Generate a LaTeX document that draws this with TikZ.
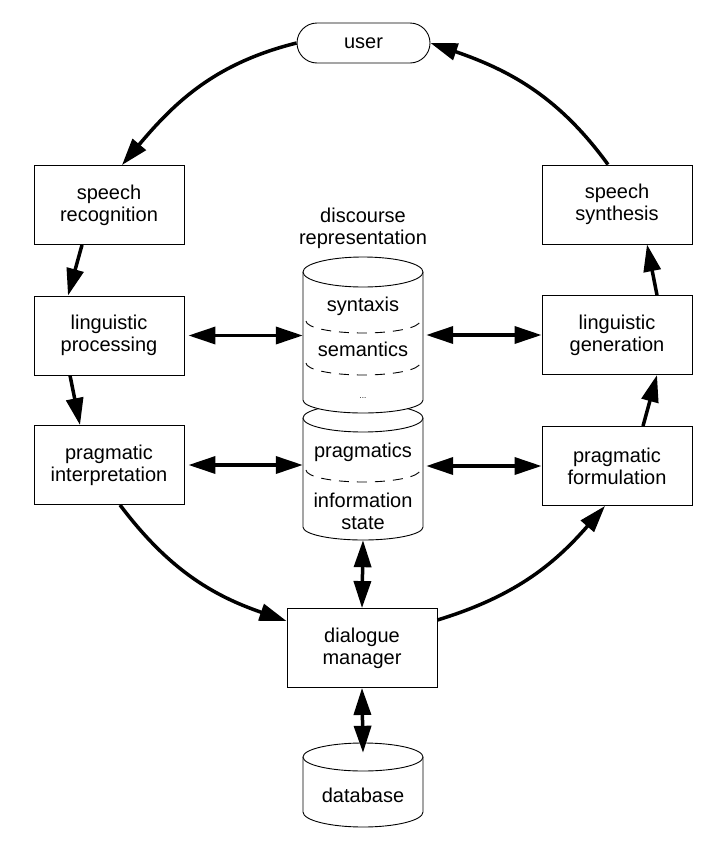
\documentclass[tikz,border=0pt]{standalone}
\usepackage{fontspec}
\setmainfont{Liberation Sans}
\usetikzlibrary{positioning}
\usetikzlibrary{arrows.meta}
\tikzset{x=1pt, y=1pt,
every node/.style={font=\fontsize{20}{22}\selectfont, align=center},
module/.style={ % Sets the properties for each processing box
draw,
line width=0.9pt,
minimum width=150pt,
minimum height=79pt},
pill/.style={draw, line width=0.9pt, rounded corners=20pt,
minimum width=133pt, minimum height=40pt},
store/.style={inner sep=0pt, minimum width=120pt}, % Invisible frame round a cylinder
drum/.style={draw, line width=0.9pt, fill=white},
divider/.style={line width=0.9pt, dash pattern=on 10pt off 8pt},
>={Triangle[length=27pt,width=17pt]}, % Big filled heads
every edge/.style={ % Sets the properties for each flow
draw,
->,
line width=3.5pt},
both/.style={<->}}

\begin{document}
\begin{tikzpicture}
\useasboundingbox (0,0) rectangle (718,-841);
\node[pill] (user) at (363.5,-43) {user};
\node[module] (recog) at (109,-205) {speech\\recognition};
\node[module] (lproc) at (109,-335.5) {linguistic\\processing};
\node[module] (pint) at (109,-465) {pragmatic\\interpretation};
\node[module] (synth) at (617,-204.5) {speech\\synthesis};
\node[module] (lgen) at (617,-335) {linguistic\\generation};
\node[module] (pform) at (617,-466) {pragmatic\\formulation};
\node[module] (dman) at (362,-648) {dialogue\\manager};
\node[store, minimum height=156pt] (discup) at (363,-335) {};
\node[store, minimum height=136pt] (disclow) at (363,-472) {};
\node[store, minimum height=84pt] (db) at (363,-785) {};
\draw[drum] (303,-418) -- (303,-527) arc[start angle=180, end angle=360, x radius=60, y radius=13] -- (423,-418);
\draw[drum] (363,-418) ellipse[x radius=60, y radius=14];
\draw[drum] (303,-272) -- (303,-400) arc[start angle=180, end angle=360, x radius=60, y radius=13] -- (423,-272);
\draw[drum] (363,-272) ellipse[x radius=60, y radius=15];
\draw[divider] (306,-321) arc[start angle=180, end angle=360, x radius=57, y radius=12];
\draw[divider] (306,-363) arc[start angle=180, end angle=360, x radius=57, y radius=12];
\draw[divider] (306,-470) arc[start angle=180, end angle=360, x radius=57, y radius=12];
\draw[drum] (303,-757) -- (303,-812) arc[start angle=180, end angle=360, x radius=60, y radius=15] -- (423,-757);
\draw[drum] (363,-757) ellipse[x radius=60, y radius=14];
\node (title) at (363,-228) {discourse\\representation};
\node (syn) at (363,-306) {syntaxis};
\node (sem) at (363,-349) {semantics};
\node[font=\fontsize{8}{8}\selectfont] (dots) at (363,-398) {...};
\node (prag) at (363,-452) {pragmatics};
\node (info) at (363,-511) {information\\state};
\node (dbtext) at (363,-795) {database};
\draw (user.west) edge[out=194, in=50] ([xshift=13pt]recog.north);
\draw ([xshift=-27pt]recog.south) edge ([xshift=-41pt]lproc.north);
\draw ([xshift=-39pt]lproc.south) edge ([xshift=-29pt]pint.north);
\draw ([xshift=11pt]pint.south) edge[out=-53, in=161] ([yshift=27pt]dman.west);
\draw ([yshift=28pt]dman.east) edge[out=17, in=229] ([xshift=-12pt]pform.south);
\draw ([xshift=26pt]pform.north) edge ([xshift=40pt]lgen.south);
\draw ([xshift=40pt]lgen.north) edge ([xshift=30pt]synth.south);
\draw ([xshift=-9pt]synth.north) edge[out=126, in=-19] (user.east);
\draw ([xshift=4pt]lproc.east) edge[both] (lproc.east -| discup.west);
\draw ([xshift=3pt]discup.east |- lgen.west) edge[both] (lgen.west);
\draw ([xshift=4pt]pint.east) edge[both] (pint.east -| disclow.west);
\draw ([xshift=3pt]disclow.east |- pform.west) edge[both] (pform.west);
\draw (disclow.south) edge[both] (dman.north);
\draw (dman.south) edge[both] ([yshift=-10pt]db.north);
\end{tikzpicture}
\end{document}
